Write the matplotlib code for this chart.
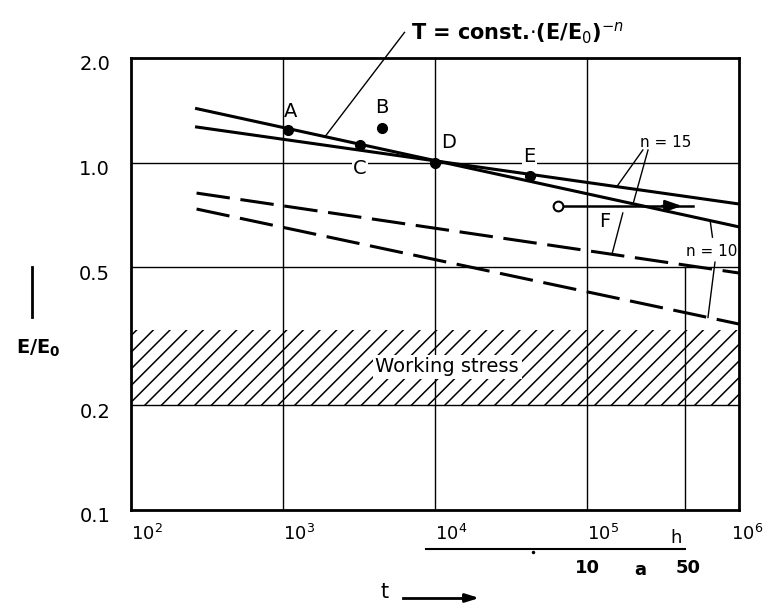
import numpy as np
import matplotlib.pyplot as plt
from matplotlib.transforms import ScaledTranslation

plt.rcParams['font.family'] = ['DejaVu Sans']
plt.rcParams['hatch.linewidth'] = 1.1

# measured points (t in h, E/E0)
pt_names = ['A', 'B', 'C', 'D', 'E']
pt_t = [1080, 4500, 3200, 10000, 42000]
pt_e = [1.24, 1.26, 1.12, 1.0, 0.915]
pt_off = [(2, 19), (0, 20), (0, -23), (14, 20), (0, 19)]   # label offsets, pixels

# point F (open circle) and its arrow
f_t = [64000, 500000]
f_e = [0.75, 0.75]

# straight lines (start / end)
line_t = [270, 1e6]
solid_n10 = [1.43, 0.653]
solid_n15 = [1.266, 0.76]
dash_n15 = [0.817, 0.481]
dash_n10 = [0.735, 0.343]

work_lo, work_hi = 0.2, 0.33
grid_t = [1e3, 1e4, 1e5]
grid_e = [1.0, 0.5, 0.2]
h_per_a = 8760
years = [1, 5, 10, 50]

yticks = [0.1, 0.2, 0.5, 1.0, 2.0]
ytick_labels = ['0.1', '0.2', '0.5', '1.0', '2.0']
xticks = [1e2, 1e3, 1e4, 1e5, 1e6]
xtick_labels = [r'$10^{2}$', r'$10^{3}$', r'$10^{4}$', r'$10^{5}$', r'$10^{6}$']


def on_line(t, e):
    # point on a straight line (log-log) between line_t[0] and line_t[1]
    f = (np.log10(t) - np.log10(line_t[0])) / (np.log10(line_t[1]) - np.log10(line_t[0]))
    return 10 ** (np.log10(e[0]) + f * (np.log10(e[1]) - np.log10(e[0])))


fig = plt.figure(figsize=(7.68, 6.10), dpi=100)
ax = fig.add_axes([131 / 768, 1 - 510 / 610, 608 / 768, 452 / 610])
ax.set_xscale('log')
ax.set_yscale('log')
ax.set_xlim(1e2, 1e6)
ax.set_ylim(0.1, 2.0)
ax.minorticks_off()

for s in ax.spines.values():
    s.set_linewidth(2.0)

# grid
for t in grid_t:
    ax.axvline(t, color='black', lw=1.0, zorder=1)
for e in grid_e:
    ax.axhline(e, color='black', lw=1.0, zorder=1)
ax.plot([years[-1] * h_per_a] * 2, [0.1, 0.5], color='black', lw=1.0, zorder=1)

# working stress band
ax.fill_between([1e2, 1e6], work_lo, work_hi, facecolor='none', edgecolor='black',
                hatch='//', lw=0, zorder=1)
ax.text(12000, 0.258, 'Working stress', fontsize=14, ha='center', va='center',
        bbox=dict(facecolor='white', edgecolor='none', pad=2), zorder=3)

# lines
ax.plot(line_t, solid_n10, color='black', lw=2.2, zorder=4)
ax.plot(line_t, solid_n15, color='black', lw=2.2, zorder=4)
ax.plot(line_t, dash_n15, color='black', lw=2.2, dashes=(11, 3.5), zorder=4)
ax.plot(line_t, dash_n10, color='black', lw=2.2, dashes=(11, 3.5), zorder=4)

# points
ax.plot(pt_t, pt_e, 'o', color='black', ms=7, zorder=5)
for name, t, e, off in zip(pt_names, pt_t, pt_e, pt_off):
    bb = dict(facecolor='white', edgecolor='none', pad=1) if name in ('C', 'E') else None
    ax.annotate(name, (t, e), xytext=off, textcoords='offset pixels', fontsize=14,
                ha='center', va='center', bbox=bb, zorder=6)

# F with arrow
ax.plot(f_t, f_e, color='black', lw=1.8, zorder=5)
ax.annotate('', xy=(f_t[1] * 0.88, f_e[1]), xytext=(f_t[1] * 0.6, f_e[1]),
            arrowprops=dict(arrowstyle='-|>,head_length=1.0,head_width=0.35',
                            color='black', lw=1.8), zorder=5)
ax.plot(f_t[0], f_e[0], 'o', mfc='white', mec='black', mew=1.5, ms=7, zorder=6)
ax.annotate('F', (f_t[0], f_e[0]), xytext=(47, -16), textcoords='offset pixels',
            fontsize=14, ha='center', va='center')
ax.plot([172000, 146000], [0.716, on_line(146000, dash_n15)], color='black', lw=1.0)

# n labels and leaders
ax.text(330000, 1.14, 'n = 15', fontsize=11, ha='center', va='center')
ax.plot([233000, 157000], [1.087, on_line(157000, solid_n15)], color='black', lw=1.0)
ax.plot([252000, 201000], [1.087, on_line(201000, solid_n10)], color='black', lw=1.0)
ax.text(664000, 0.556, 'n = 10', fontsize=11, ha='center', va='center')
ax.plot([669000, 646000], [0.61, on_line(646000, solid_n10)], color='black', lw=1.0)
ax.plot([695000, 625000], [0.517, on_line(625000, dash_n10)], color='black', lw=1.0)

# formula and leader
ax.text(6900, 2.36, r'T = const.$\cdot$(E/E$_0$)$^{-n}$', fontsize=15, fontweight='bold',
        ha='left', va='center', clip_on=False)
ax.plot([6300, 1890], [2.37, on_line(1890, solid_n10)], color='black', lw=1.0, clip_on=False)

# ticks
ax.set_yticks(yticks, ytick_labels)
ax.set_xticks(xticks, xtick_labels)
ax.tick_params(axis='both', length=0, labelsize=14)
ax.tick_params(axis='x', labelsize=13, pad=10)
ax.tick_params(axis='y', pad=15)
for lbl in ax.get_yticklabels():
    lbl.set_transform(lbl.get_transform() + ScaledTranslation(0, -5 / 100, fig.dpi_scale_trans))
for lbl in ax.get_xticklabels():
    lbl.set_ha('left')
last = ax.get_xticklabels()[-1]
last.set_transform(last.get_transform() + ScaledTranslation(-8 / 100, 0, fig.dpi_scale_trans))

# secondary time scale in years
trans = ax.get_xaxis_transform()
yt = [y * h_per_a for y in years]
ax.plot([yt[0], yt[-1]], [-0.086, -0.086], color='black', lw=1.5, transform=trans, clip_on=False)
ax.plot(yt[1], -0.092, '.', color='black', ms=3, transform=trans, clip_on=False)
ax.text(yt[-1] * 0.88, -0.062, 'h', fontsize=13, ha='center', va='center', transform=trans)
ax.text(yt[2] * 1.15, -0.128, '10', fontsize=13, fontweight='bold', ha='center', va='center',
        transform=trans)
ax.text(np.sqrt(yt[2] * yt[3]) * 1.15, -0.133, 'a', fontsize=13, fontweight='bold',
        ha='center', va='center', transform=trans)
ax.text(yt[3] * 1.05, -0.128, '50', fontsize=13, fontweight='bold', ha='center', va='center',
        transform=trans)

# axis labels
fig.text(385 / 768, 1 - 592 / 610, 't', fontsize=15, ha='center', va='center')
fig.add_artist(plt.Line2D([403 / 768, 470 / 768], [1 - 598 / 610] * 2, color='black', lw=2))
ax.annotate('', xy=(482 / 768, 1 - 598 / 610), xytext=(460 / 768, 1 - 598 / 610),
            xycoords='figure fraction', textcoords='figure fraction',
            arrowprops=dict(arrowstyle='-|>,head_length=0.8,head_width=0.25', color='black', lw=2))
fig.add_artist(plt.Line2D([32 / 768] * 2, [1 - 267 / 610, 1 - 317 / 610], color='black', lw=2))
fig.text(38 / 768, 1 - 348 / 610, r'$\mathbf{E/E_0}$', fontsize=14, ha='center', va='center')

fig.savefig('out.png', dpi=100)
